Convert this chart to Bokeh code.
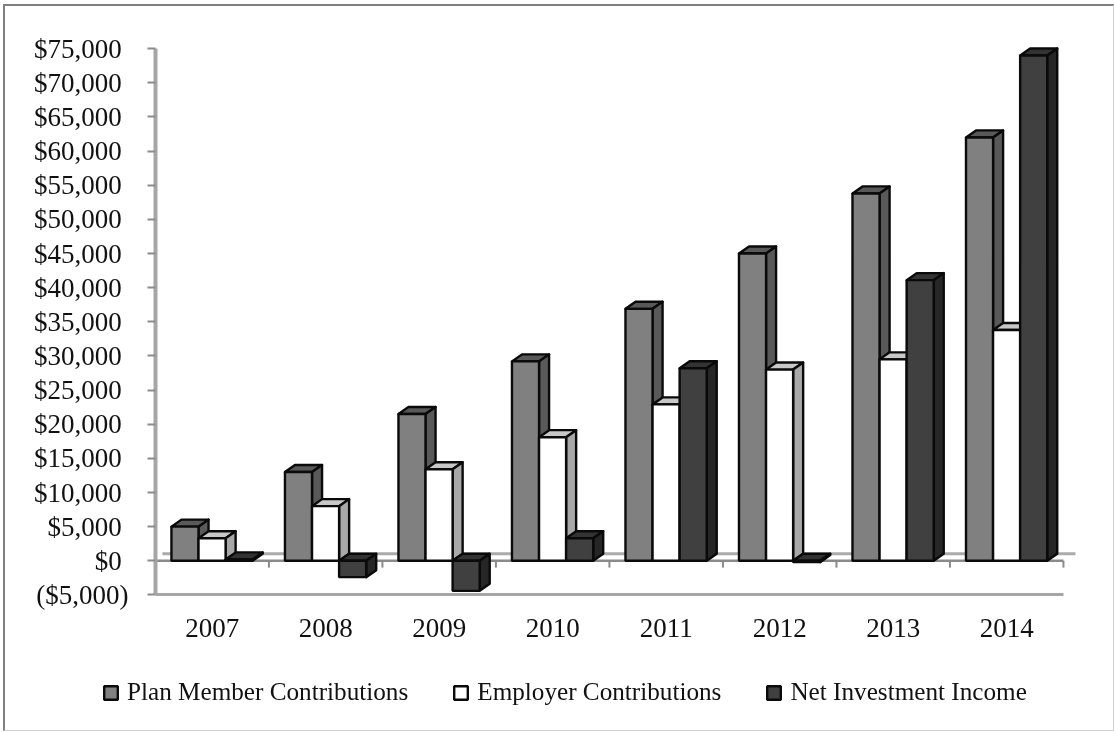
from bokeh.plotting import figure
from bokeh.embed import file_html
from bokeh.resources import INLINE
from bokeh.models import ColumnDataSource, FixedTicker, Legend, LegendItem, Range1d

years = ["2007", "2008", "2009", "2010", "2011", "2012", "2013", "2014"]
plan_member = [5000, 13000, 21500, 29200, 36900, 45000, 53800, 62000]
employer = [3300, 8000, 13400, 18100, 22900, 28000, 29500, 33800]
net_investment = [200, -2400, -4400, 3300, 28200, -200, 41100, 74000]
y_ticks = list(range(-5000, 80000, 5000))
names = ["Plan Member Contributions", "Employer Contributions", "Net Investment Income"]

OX, OY = 6.5, 8
W, H = 1108, 724
AXIS_L, AXIS_B = 156, 594
PX_PER_CAT = 113.2
PX_PER_UNIT_Y = 34 / 5000
DX = 10 / PX_PER_CAT
DY = 7 / PX_PER_UNIT_Y
BW = 27 / PX_PER_CAT
GAP0 = 16 / PX_PER_CAT
FONT = "Liberation Serif"

p = figure(width=W, height=H, output_backend="svg", toolbar_location=None,
           x_range=Range1d(-(AXIS_L - OX) / PX_PER_CAT, (OX + W - AXIS_L) / PX_PER_CAT),
           y_range=Range1d(-5000 - (OY + H - AXIS_B) / PX_PER_UNIT_Y, -5000 + (AXIS_B - OY) / PX_PER_UNIT_Y),
           min_border=0)
p.styles = {"position": "fixed", "left": "3px", "top": "4px",
            "border-left": "2px solid #808080", "border-top": "2px solid #808080",
            "border-right": "1px solid #d0d0d0", "border-bottom": "1px solid #d0d0d0",
            "box-sizing": "content-box"}
p.outline_line_color = None
p.xgrid.visible = False
p.ygrid.visible = False

ax = p.xaxis[0]
ax.fixed_location = -5000
ax.ticker = FixedTicker(ticks=[i + 0.5 for i in range(len(years))])
ax.major_label_overrides = {i + 0.5: y for i, y in enumerate(years)}
ax.bounds = (0, len(years))
ax.major_tick_line_color = None
ax.minor_tick_line_color = None
ax.axis_line_color = "#a6a6a6"
ax.axis_line_width = 3
ax.major_label_standoff = 18
ax.major_label_text_font = FONT
ax.major_label_text_font_size = "27px"
ax.major_label_text_color = "#111111"

def fmt(v):
    return f"(${-v:,})" if v < 0 else f"${v:,}\u00a0"

ay = p.yaxis[0]
ay.fixed_location = 0
ay.ticker = FixedTicker(ticks=y_ticks)
ay.major_label_overrides = {v: fmt(v) for v in y_ticks}
ay.bounds = (-5000, 75000)
ay.minor_tick_line_color = None
ay.major_tick_in = 0
ay.major_tick_out = 8
ay.major_tick_line_color = "#8c8c8c"
ay.major_tick_line_width = 2
ay.axis_line_color = "#a6a6a6"
ay.axis_line_width = 4
ay.major_label_standoff = 19
ay.major_label_text_font = FONT
ay.major_label_text_font_size = "27px"
ay.major_label_text_color = "#111111"

# back wall floor line and zero plane
n = len(years)
p.segment([-3 / PX_PER_CAT + DX], [DY], [n + DX + 2 / PX_PER_CAT], [DY], line_color="#ababab", line_width=3)
p.segment([0], [0], [n], [0], line_color="#8a8a8a", line_width=2.5)
p.segment(list(range(1, n + 1)), [0] * n, list(range(1, n + 1)), [-1000] * n, line_color="#8a8a8a", line_width=2)

styles = [("#808080", "#595959", "#595959"),
          ("#ffffff", "#c8c8c8", "#a8a8a8"),
          ("#404040", "#333333", "#262626")]
series = [plan_member, employer, net_investment]
fronts = []
for s, vals in enumerate(series):
    front, top, side = styles[s]
    lefts = [i + GAP0 + s * BW for i in range(n)]
    rights = [l + BW for l in lefts]
    tops = [max(v, 0) for v in vals]
    bottoms = [min(v, 0) for v in vals]
    p.patches(
        [[l, r, r + DX, l + DX] for l, r in zip(lefts, rights)],
        [[t, t, t + DY, t + DY] for t in tops],
        fill_color=top, line_color="#0a0a0a", line_width=2.4, line_join="round")
    p.patches(
        [[r, r + DX, r + DX, r] for r in rights],
        [[t, t + DY, b + DY, b] for t, b in zip(tops, bottoms)],
        fill_color=side, line_color="#0a0a0a", line_width=2.4, line_join="round")
    src = ColumnDataSource(dict(l=lefts, r=rights, t=tops, b=bottoms))
    fronts.append(p.quad(left="l", right="r", top="t", bottom="b", source=src,
                         fill_color=front, line_color="#0a0a0a", line_width=2.4))

legend = Legend(items=[LegendItem(label=names[i], renderers=[fronts[i]]) for i in range(3)],
                orientation="horizontal", location=(97, 27),
                glyph_width=17, glyph_height=17, label_standoff=8, spacing=44,
                label_text_font=FONT, label_text_font_size="25.2px", label_text_color="#111111",
                border_line_color=None, background_fill_alpha=0, padding=5, margin=0)
p.add_layout(legend, "center")

open("out.html", "w").write(file_html(p, INLINE))
